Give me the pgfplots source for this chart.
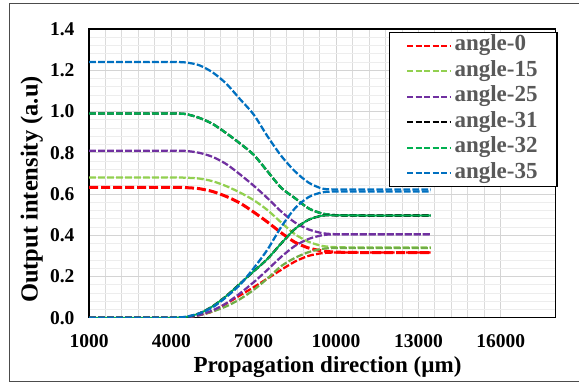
\documentclass[border=0pt]{standalone}
\usepackage{fontspec}
\setmainfont{Liberation Serif}
\usepackage{pgfplots}
\pgfplotsset{compat=1.18}
\usepackage{pgfplotstable}

\definecolor{cRed}{HTML}{FF0000}
\definecolor{cLime}{HTML}{92D050}
\definecolor{cOlive}{HTML}{70AD47}
\definecolor{cPurple}{HTML}{7030A0}
\definecolor{cGreen}{HTML}{00B050}
\definecolor{cBlue}{HTML}{0070C0}
\definecolor{cText}{HTML}{595959}

% columns: x, falling branch (d), rising branch (r)
\pgfplotstableread{
x     d0    r0    d15   r15   d25   r25   d31   r31   d32   r32   d35   r35
1000  0.632 0.000 0.680 0.000 0.810 0.000 0.990 0.000 0.990 0.000 1.240 0.000
2000  0.632 0.000 0.680 0.000 0.810 0.000 0.990 0.000 0.990 0.000 1.240 0.000
3000  0.632 0.000 0.680 0.000 0.810 0.000 0.990 0.000 0.990 0.000 1.240 0.000
4000  0.632 0.000 0.680 0.000 0.810 0.000 0.990 0.000 0.990 0.000 1.240 0.000
4500  0.631 0.002 0.679 0.002 0.809 0.002 0.988 0.003 0.988 0.003 1.238 0.004
5000  0.626 0.012 0.675 0.012 0.800 0.012 0.970 0.020 0.970 0.020 1.225 0.020
5500  0.612 0.030 0.662 0.030 0.780 0.035 0.940 0.055 0.940 0.055 1.190 0.050
6000  0.588 0.068 0.638 0.055 0.745 0.070 0.895 0.105 0.895 0.105 1.135 0.100
6500  0.556 0.108 0.607 0.090 0.695 0.118 0.845 0.165 0.845 0.165 1.060 0.160
7000  0.512 0.148 0.570 0.135 0.640 0.172 0.790 0.225 0.790 0.225 0.985 0.240
7500  0.464 0.190 0.522 0.190 0.580 0.232 0.710 0.285 0.710 0.285 0.880 0.330
8000  0.412 0.232 0.462 0.250 0.515 0.295 0.630 0.360 0.630 0.360 0.785 0.440
8500  0.366 0.272 0.405 0.290 0.462 0.348 0.580 0.430 0.580 0.430 0.710 0.530
9000  0.338 0.300 0.368 0.318 0.428 0.382 0.530 0.475 0.530 0.475 0.655 0.585
9500  0.324 0.313 0.348 0.334 0.410 0.400 0.505 0.495 0.505 0.495 0.626 0.608
10000 0.318 0.316 0.342 0.338 0.405 0.405 0.497 0.497 0.497 0.497 0.622 0.612
11000 0.316 0.316 0.340 0.338 0.405 0.405 0.495 0.496 0.495 0.496 0.622 0.612
12000 0.316 0.316 0.340 0.338 0.405 0.405 0.495 0.496 0.495 0.496 0.622 0.612
13000 0.316 0.316 0.340 0.338 0.405 0.405 0.495 0.496 0.495 0.496 0.622 0.612
13450 0.316 0.316 0.340 0.338 0.405 0.405 0.495 0.496 0.495 0.496 0.622 0.612
}\angles

\begin{document}
\begin{tikzpicture}[x=1pt,y=1pt]
\useasboundingbox (0,0) rectangle (579,-387);
% outer chart frame
\draw[line width=1pt, color=black!70] (579,-3.3) -- (9,-3.3) -- (9,-381.7) -- (579,-381.7);
\begin{axis}[
  at={(89pt,-317.7pt)}, anchor=south west,
  scale only axis, width=466.7pt, height=288.7pt,
  xmin=1000, xmax=18000, ymin=0, ymax=1.4,
  xtick={1000,4000,7000,10000,13000,16000},
  ytick={0,0.2,0.4,0.6,0.8,1.0,1.2,1.4},
  minor x tick num=4, minor y tick num=4,
  grid=both,
  major grid style={color=black!17, line width=0.9pt},
  minor x grid style={color=black!14, line width=0.9pt},
  minor y grid style={color=black!7, line width=0.8pt},
  major tick length=0pt, minor tick length=0pt,
  axis line style={line width=1.3pt, black},
  scaled x ticks=false,
  /pgf/number format/assume math mode=true,
  xticklabel style={/pgf/number format/.cd, fixed, set thousands separator={}, /tikz/.cd,
     font=\fontsize{19.5}{19.5}\selectfont\bfseries, yshift=-13pt},
  yticklabel style={/pgf/number format/.cd, fixed, fixed zerofill, precision=1, /tikz/.cd,
     font=\fontsize{19.5}{19.5}\selectfont\bfseries, xshift=-11pt},
  xlabel={Propagation direction (µm)},
  ylabel={Output intensity (a.u)},
  xlabel style={font=\fontsize{23}{23}\selectfont\bfseries, at={(axis description cs:0.511,-0.171)}, anchor=center},
  ylabel style={font=\fontsize{24.5}{24.5}\selectfont\bfseries, at={(axis description cs:-0.1228,0.444)}, anchor=center, rotate=0},
  legend style={at={(1.0043,0.9907)}, anchor=north east, draw=black, line width=1.3pt, fill=white,
     font=\fontsize{23}{23}\selectfont\bfseries, text=cText, inner xsep=17pt, inner ysep=2.6pt,
     row sep=3.9pt, column sep=0pt, cells={anchor=west},
     nodes={inner xsep=2.5pt, inner ysep=0pt, text height=16pt, text depth=5.6pt}},
  legend image code/.code={\draw[#1, line width=1.8pt, dash pattern=on 6pt off 2.5pt] (0pt,0pt) -- (44pt,0pt);},
  every axis plot/.append style={smooth, tension=0.45},
]
\addplot[cRed, line width=3pt, dash pattern=on 9pt off 3pt] table[x=x,y=d0] {\angles};
\addlegendentry{angle-0}
\addplot[cLime, line width=2.25pt, dash pattern=on 6.75pt off 2.25pt] table[x=x,y=d15] {\angles};
\addlegendentry{angle-15}
\addplot[cPurple, line width=2.25pt, dash pattern=on 6.75pt off 2.25pt] table[x=x,y=d25] {\angles};
\addlegendentry{angle-25}
\addplot[black, line width=2.25pt, dash pattern=on 6.75pt off 2.25pt] table[x=x,y=d31] {\angles};
\addlegendentry{angle-31}
\addplot[cGreen, line width=2.25pt, dash pattern=on 6.75pt off 2.25pt] table[x=x,y=d32] {\angles};
\addlegendentry{angle-32}
\addplot[cBlue, line width=2.25pt, dash pattern=on 6.75pt off 2.25pt] table[x=x,y=d35] {\angles};
\addlegendentry{angle-35}
% rising branches
\addplot[forget plot, cRed, line width=2.25pt, dash pattern=on 6.75pt off 2.25pt] table[x=x,y=r0] {\angles};
\addplot[forget plot, cOlive, line width=2.25pt, dash pattern=on 6.75pt off 2.25pt] table[x=x,y=r15] {\angles};
\addplot[forget plot, cPurple, line width=2.25pt, dash pattern=on 6.75pt off 2.25pt] table[x=x,y=r25] {\angles};
\addplot[forget plot, black, line width=2.25pt, dash pattern=on 6.75pt off 2.25pt] table[x=x,y=r31] {\angles};
\addplot[forget plot, cGreen, line width=1.8pt] table[x=x,y=r32] {\angles};
\addplot[forget plot, cBlue, line width=2.25pt, dash pattern=on 6.75pt off 2.25pt] table[x=x,y=r35] {\angles};
\end{axis}
\end{tikzpicture}
\end{document}
